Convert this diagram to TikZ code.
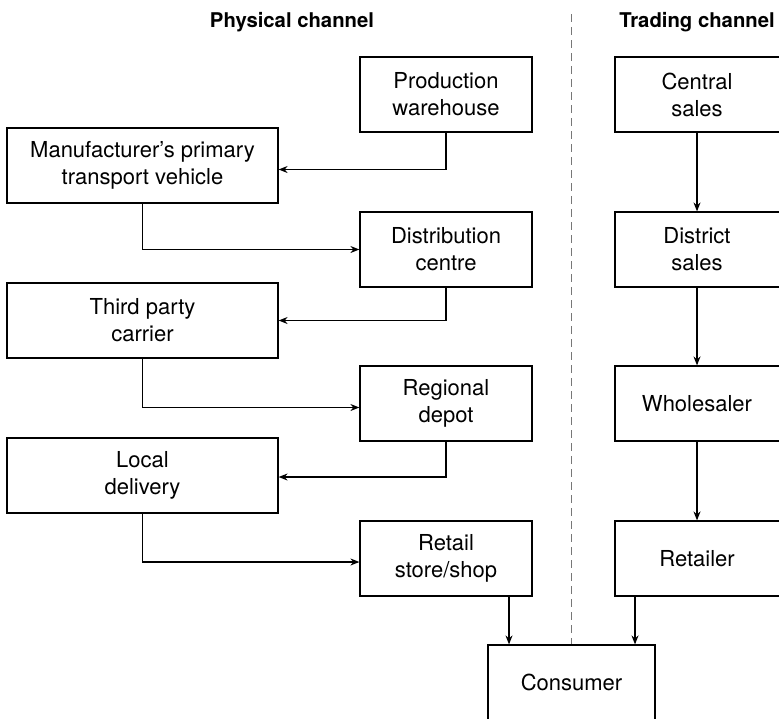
\documentclass[tikz,border=0pt]{standalone}
\usepackage{fontspec}
\setmainfont{TeX Gyre Heros}
\usetikzlibrary{arrows.meta}
\definecolor{dashgray}{HTML}{777777}
\begin{document}
\begin{tikzpicture}[x=1pt,y=-1pt,
  box/.style={draw=black,line width=1.2pt,inner sep=0pt,align=center,
    font=\fontsize{22}{27}\selectfont},
  lbox/.style={box,minimum width=271pt,minimum height=75pt},
  mbox/.style={box,minimum width=172pt,minimum height=75pt},
  rbox/.style={box,minimum width=168pt,minimum height=75pt},
  cbox/.style={box,minimum width=167pt,minimum height=75pt},
  rlabel/.style={align=center,inner sep=0pt,font=\fontsize{22}{27}\selectfont},
  head/.style={font=\fontsize{20.3}{24}\selectfont\bfseries,inner sep=0pt},
  arr/.style={draw=black,line width=1.2pt,-{Stealth[length=9pt,width=7pt]}},
  divider/.style={draw=dashgray,line width=1.8pt,dash pattern=on 8pt off 5pt}]
\path[use as bounding box,clip] (0,0) rectangle (779,718);
\fill[white] (0,0) rectangle (779,718);

\node[head] (hp) at (292,22) {Physical channel};
\node[head] (ht) at (697,22) {Trading channel};

\node[mbox] (pw) at (446,94.5) {Production\\warehouse};
\node[lbox] (mt) at (142.5,165.5) {Manufacturer’s primary\\transport vehicle};
\node[mbox] (dc) at (446,249.5) {Distribution\\centre};
\node[lbox] (tp) at (142.5,320.5) {Third party\\carrier};
\node[mbox] (rd) at (446,403.5) {Regional\\depot};
\node[lbox] (ld) at (142.5,475.5) {Local\\delivery};
\node[mbox] (rs) at (446,558.5) {Retail\\store/shop};

\node[rbox] (cs) at (699,94.5) {};
\node[rlabel] (csl) at (697,94.5) {Central\\sales};
\node[rbox] (ds) at (699,249.5) {};
\node[rlabel] (dsl) at (697,249.5) {District\\sales};
\node[rbox] (wh) at (699,403.5) {};
\node[rlabel] (whl) at (697,403.5) {Wholesaler};
\node[rbox] (rt) at (699,558.5) {};
\node[rlabel] (rtl) at (697,558.5) {Retailer};

\node[cbox] (co) at (571.5,682.5) {Consumer};

\coordinate (dtop) at (571.5,14);
\draw[divider] (dtop) -- (co.north);

\draw[arr] (pw.south) |- ([yshift=-4pt]mt.east);
\draw[arr] (mt.south) |- (dc.west);
\draw[arr] (dc.south) |- (tp.east);
\draw[arr] (tp.south) |- ([yshift=-4pt]rd.west);
\draw[arr] (rd.south) |- ([yshift=-1.5pt]ld.east);
\draw[arr] (ld.south) |- ([yshift=-3.5pt]rs.west);

\draw[arr] ([xshift=-2pt]cs.south) -- ([xshift=-2pt]ds.north);
\draw[arr] ([xshift=-2pt]ds.south) -- ([xshift=-2pt]wh.north);
\draw[arr] ([xshift=-2pt]wh.south) -- ([xshift=-2pt]rt.north);

\draw[arr] ([xshift=63pt]rs.south) -- ([xshift=63pt]rs.south |- co.north);
\draw[arr] ([xshift=-64pt]rt.south) -- ([xshift=-64pt]rt.south |- co.north);
\end{tikzpicture}
\end{document}
